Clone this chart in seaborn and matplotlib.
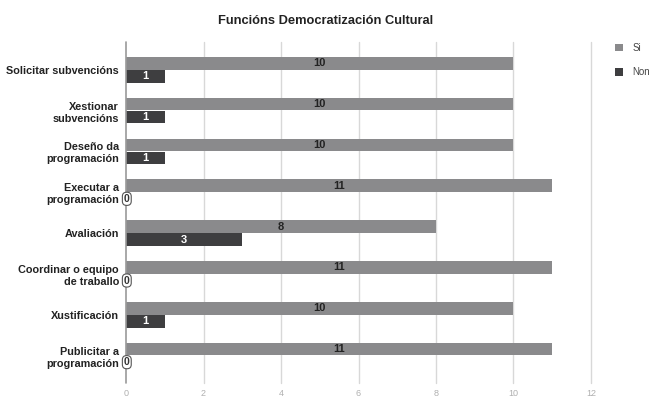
import matplotlib
matplotlib.use("Agg")
import matplotlib.pyplot as plt
import seaborn as sns
import pandas as pd
from matplotlib.patches import Patch

categories = ["Solicitar subvencións", "Xestionar\nsubvencións", "Deseño da\nprogramación",
              "Executar a\nprogramación", "Avaliación", "Coordinar o equipo\nde traballo",
              "Xustificación", "Publicitar a\nprogramación"]
si_values = [10, 10, 10, 11, 8, 11, 10, 11]
non_values = [1, 1, 1, 0, 3, 0, 1, 0]
series = ["Si", "Non"]
colors = ["#8a8a8c", "#3e3e40"]
xticks = [0, 2, 4, 6, 8, 10, 12]

df = pd.DataFrame({
    "cat": categories * 2,
    "val": si_values + non_values,
    "serie": ["Si"] * len(categories) + ["Non"] * len(categories),
})

sns.set_theme(style="white")
plt.rcParams['font.family'] = ['Liberation Sans', 'DejaVu Sans']

fig = plt.figure(figsize=(6.52, 3.99), dpi=100)
ax = fig.add_axes([0.1933, 0.0401, 0.7131, 0.8546])

sns.barplot(data=df, y="cat", x="val", hue="serie", hue_order=series,
            palette=colors, orient="h", width=0.64, gap=0.04, ax=ax,
            legend=False, saturation=1, linewidth=0)

ax.set_xlim(0, 12)
ax.set_ylim(7.67, -0.68)
ax.set_xticks(xticks)
ax.set_xticklabels([str(t) for t in xticks], color="#b0b0b0", fontsize=6.5)
ax.tick_params(axis="x", length=0, pad=4)
ax.tick_params(axis="y", length=0, pad=5)
ax.set_yticklabels(categories, fontsize=7.8, fontweight="bold", color="#222222",
                   linespacing=1.25)
ax.set_xlabel("")
ax.set_ylabel("")
for s in ax.spines.values():
    s.set_visible(False)
for t in xticks[1:]:
    ax.axvline(t, color="#d8d8d8", lw=1, zorder=0, clip_on=False)
ax.axvline(0, color="#9a9a9a", lw=1.2, zorder=3, clip_on=False)

# value labels
for cont, lab_color in zip(ax.containers, ["#222222", "#ffffff"]):
    for bar in cont:
        w = bar.get_width()
        y = bar.get_y() + bar.get_height() / 2
        if w > 0:
            ax.text(w / 2, y, f"{int(w)}", ha="center", va="center",
                    fontsize=8, fontweight="bold", color=lab_color, zorder=5)
        else:
            ax.text(0.02, y, "0", ha="center", va="center", fontsize=7.5,
                    fontweight="bold", color="#333333", zorder=6,
                    bbox=dict(boxstyle="round,pad=0.15,rounding_size=0.4",
                              fc="white", ec="#555555", lw=0.8))

fig.text(0.5, 0.948, "Funcións Democratización Cultural", ha="center", va="center",
         fontsize=9.3, fontweight="bold", color="#222222")

# legend
handles = [Patch(facecolor=c, edgecolor="none") for c in colors]
fig.legend(handles, series, loc="upper left", bbox_to_anchor=(0.93, 0.915),
           frameon=False, fontsize=7, handlelength=0.8, handleheight=0.8,
           labelspacing=1.5, handletextpad=1.0, labelcolor="#444444")

fig.savefig("out.png", dpi=100)
